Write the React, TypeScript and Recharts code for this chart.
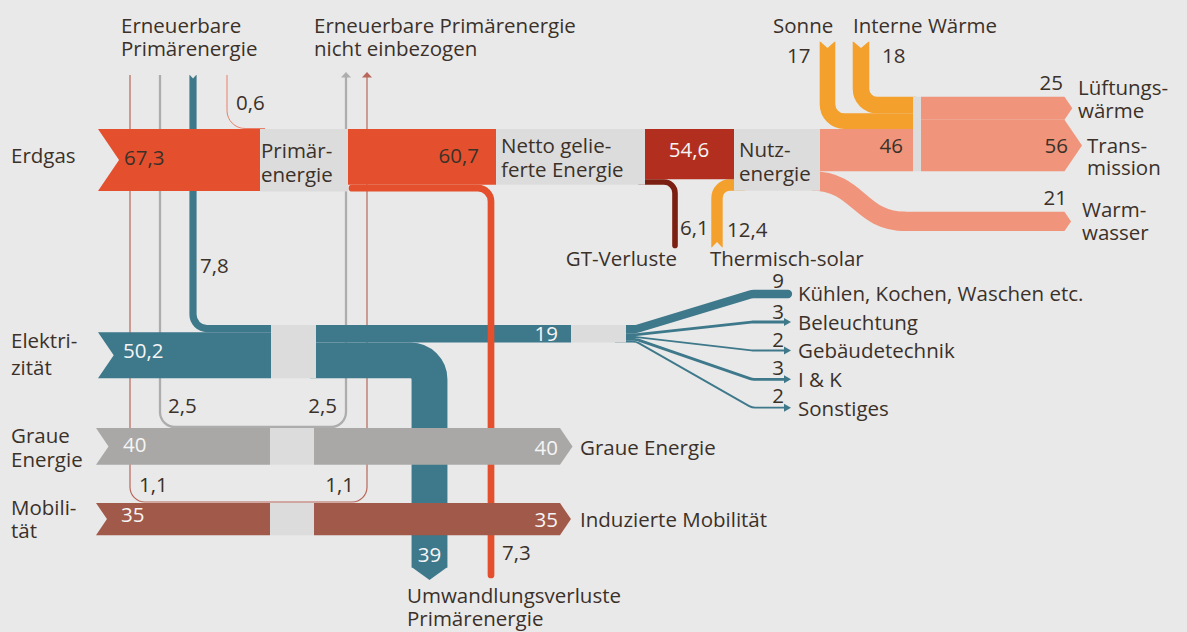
import { ComposedChart, XAxis, YAxis, Line, Scatter, ReferenceArea } from 'recharts'

const W = 1187
const H = 632
const K = 0.92 // pixels per energy unit (band thickness)
const FONT = "'Open Sans', 'Noto Sans', sans-serif"
const FS = 20.5

// ---- data ----
const sourceNames = ['Erdgas', 'Elektrizität', 'Graue Energie', 'Mobilität']
const sourceValues = [67.3, 50.2, 40, 35]
const renewableValues = [0.6, 7.8, 2.5, 1.1] // Erdgas, Elektrizität, Graue Energie, Mobilität
const gasChain = [60.7, 54.6] // netto geliefert, Nutzenergie
const gasLosses = [7.3, 6.1] // Umwandlungsverluste, GT-Verluste
const solarThermal = 12.4
const gainNames = ['Sonne', 'Interne Wärme']
const gainValues = [17, 18]
const heatValues = [25, 56, 21] // Lüftungswärme, Transmission, Warmwasser
const heatFromUseful = 46
const elecSplit = [19, 39] // Nutzung, Umwandlungsverluste
const elecUseNames = ['Kühlen, Kochen, Waschen etc.', 'Beleuchtung', 'Gebäudetechnik', 'I & K', 'Sonstiges']
const elecUseValues = [9, 3, 2, 3, 2]

const C = {
  bg: '#e9e9e9',
  box: '#dcdcdc',
  gas: '#e4502e',
  gasDark: '#b22f1f',
  gt: '#7a1f11',
  solar: '#f3a02c',
  salmon: '#f0957b',
  teal: '#3e788b',
  grey: '#a9a8a6',
  mob: '#a15a4a',
  thinRed: '#b8675a',
  thinGrey: '#adadad',
  thinSalmon: '#e8806a',
  text: '#3b3129',
  white: '#f5f5f5',
}

const fmt = (v: number) => String(v).replace('.', ',')

const [gasV, elecV, greyV, mobV] = sourceValues
const [renGas, renElec, renGrey, renMob] = renewableValues
const [nettoV, usefulGasV] = gasChain
const [lossPrimV, lossGtV] = gasLosses
const [sonneV, interneV] = gainValues
const [lueftV, transV, warmV] = heatValues
const [elecUseV, elecLossV] = elecSplit

// ---- layout (chart units == pixels) ----
const GAS_TOP = 129
const gasBot = GAS_TOP + gasV * K
const primBot = GAS_TOP + (gasV + renGas) * K
const nettoBot = GAS_TOP + nettoV * K
const usefulBot = GAS_TOP + usefulGasV * K
const nutzBot = GAS_TOP + (usefulGasV + solarThermal) * K
const heatBot = GAS_TOP + heatFromUseful * K
const nodeTop = GAS_TOP - (sonneV + interneV) * K
const lueftBot = nodeTop + lueftV * K
const transBot = lueftBot + transV * K
const WARM_TOP = 211.8
const warmBot = WARM_TOP + warmV * K
const lossY = nettoBot + (lossPrimV * K) / 2
const gtY = usefulBot + (lossGtV * K) / 2
const solarY = usefulBot + (solarThermal * K) / 2
const sonneY = GAS_TOP - (sonneV * K) / 2
const interneY = nodeTop + (interneV * K) / 2

const ELEC_TOP = 325
const elecBarTop = ELEC_TOP + renElec * K
const elecBot = elecBarTop + elecV * K
const useBot = ELEC_TOP + elecUseV * K
const lossElecY = useBot + (elecLossV * K) / 2
const fanStarts = elecUseValues.map((v, i) => ELEC_TOP + elecUseValues.slice(0, i).reduce((s, a) => s + a, 0) * K + (v * K) / 2)
const fanEnds = [294, 322, 350.5, 379.3, 407.7]

const GREY_TOP = 428
const greyBot = GREY_TOP + greyV * K
const MOB_TOP = 503
const mobBot = MOB_TOP + mobV * K

// custom d3 curve: polyline with rounded corners
function roundedCorners(radius: number) {
  return (context: any) => {
    let pts: number[][] = []
    return {
      areaStart() {},
      areaEnd() {},
      lineStart() {
        pts = []
      },
      point(x: number, y: number) {
        pts.push([x, y])
      },
      lineEnd() {
        const n = pts.length
        if (!n) return
        context.moveTo(pts[0][0], pts[0][1])
        for (let i = 1; i < n - 1; i++) {
          const [ax, ay] = pts[i - 1]
          const [bx, by] = pts[i]
          const [cx, cy] = pts[i + 1]
          const l1 = Math.hypot(bx - ax, by - ay) / (i - 1 === 0 ? 1 : 2)
          const l2 = Math.hypot(cx - bx, cy - by) / (i + 1 === n - 1 ? 1 : 2)
          context.arcTo(bx, by, cx, cy, Math.min(radius, l1, l2))
        }
        if (n > 1) context.lineTo(pts[n - 1][0], pts[n - 1][1])
      },
    }
  }
}

const bandShape = (kind: string, fill: string) => (p: any) => {
  const { x, y, width: w, height: h } = p
  const d = (0.68 * h) / 2
  let pts: number[][]
  switch (kind) {
    case 'notch':
      pts = [[x, y], [x + w, y], [x + w, y + h], [x, y + h], [x + d, y + h / 2]]
      break
    case 'arrow':
      pts = [[x, y], [x + w, y], [x + w + d, y + h / 2], [x + w, y + h], [x, y + h]]
      break
    case 'down':
      pts = [[x, y], [x + w, y], [x + w / 2, y + h]]
      break
    case 'up':
      pts = [[x, y + h], [x + w, y + h], [x + w / 2, y]]
      break
    default:
      pts = [[x, y], [x + w, y], [x + w, y + h], [x, y + h]]
  }
  return <polygon points={pts.map((q) => q.join(',')).join(' ')} fill={fill} />
}

const band = (key: string, x1: number, x2: number, y1: number, y2: number, fill: string, kind: string, z: number) => (
  <ReferenceArea
    key={key}
    x1={x1}
    x2={x2}
    y1={y1}
    y2={y2}
    fill={fill}
    fillOpacity={1}
    stroke="none"
    ifOverflow="visible"
    shape={bandShape(kind, fill)}
    zIndex={z}
  />
)

const flow = (key: string, pts: { x: number; y: number }[], color: string, width: number, curve: any, z: number, cap = 'butt') => (
  <Line
    key={key}
    data={pts}
    dataKey="y"
    type={curve}
    stroke={color}
    strokeWidth={width}
    strokeLinecap={cap as any}
    strokeLinejoin="round"
    dot={false}
    activeDot={false}
    legendType="none"
    isAnimationActive={false}
    zIndex={z}
  />
)

const upHead = (color: string) => (p: any) => (
  <polygon points={`${p.cx - 5},${p.cy + 5.5} ${p.cx + 5},${p.cy + 5.5} ${p.cx},${p.cy}`} fill={color} />
)
const rightHead = (color: string) => (p: any) => (
  <polygon points={`${p.cx - 7},${p.cy - 4} ${p.cx},${p.cy} ${p.cx - 7},${p.cy + 4}`} fill={color} />
)
const textShape = (color: string) => (p: any) => (
  <text x={p.cx} y={p.cy} fill={color} fontSize={FS} fontFamily={FONT} textAnchor={p.payload.a || 'start'}>
    {p.payload.t}
  </text>
)

const darkTexts = [
  { x: 121, y: 33, t: 'Erneuerbare' },
  { x: 121, y: 56, t: 'Primärenergie' },
  { x: 314, y: 33, t: 'Erneuerbare Primärenergie' },
  { x: 314, y: 56, t: 'nicht einbezogen' },
  { x: 773, y: 33, t: gainNames[0] },
  { x: 853, y: 33, t: gainNames[1] },
  { x: 787, y: 63, t: fmt(sonneV) },
  { x: 882, y: 63, t: fmt(interneV) },
  { x: 236, y: 110, t: fmt(renGas) },
  { x: 11, y: 163, t: sourceNames[0] },
  { x: 124, y: 165, t: fmt(gasV) },
  { x: 261, y: 158, t: 'Primär-' },
  { x: 261, y: 182, t: 'energie' },
  { x: 479, y: 163, t: fmt(nettoV), a: 'end' },
  { x: 501, y: 153, t: 'Netto gelie-' },
  { x: 501, y: 177, t: 'ferte Energie' },
  { x: 739, y: 157, t: 'Nutz-' },
  { x: 739, y: 181, t: 'energie' },
  { x: 903, y: 153, t: fmt(heatFromUseful), a: 'end' },
  { x: 1068, y: 153, t: fmt(transV), a: 'end' },
  { x: 1063, y: 90, t: fmt(lueftV), a: 'end' },
  { x: 1078, y: 95, t: 'Lüftungs-' },
  { x: 1078, y: 118, t: 'wärme' },
  { x: 1087, y: 153, t: 'Trans-' },
  { x: 1087, y: 175, t: 'mission' },
  { x: 1067, y: 205, t: fmt(warmV), a: 'end' },
  { x: 1082, y: 217, t: 'Warm-' },
  { x: 1082, y: 240, t: 'wasser' },
  { x: 680, y: 235, t: fmt(lossGtV) },
  { x: 727, y: 237, t: fmt(solarThermal) },
  { x: 677, y: 266, t: 'GT-Verluste', a: 'end' },
  { x: 710, y: 266, t: 'Thermisch-solar' },
  { x: 200, y: 273, t: fmt(renElec) },
  ...elecUseValues.map((v, i) => ({ x: 778, y: [288, 319, 347, 375, 403][i], t: fmt(v), a: 'middle' })),
  ...elecUseNames.map((n, i) => ({ x: 798, y: [301, 330, 358, 387, 416][i], t: n })),
  { x: 11, y: 348, t: 'Elektri-' },
  { x: 11, y: 375, t: 'zität' },
  { x: 168, y: 413, t: fmt(renGrey) },
  { x: 337, y: 413, t: fmt(renGrey), a: 'end' },
  { x: 11, y: 443, t: 'Graue' },
  { x: 11, y: 467, t: 'Energie' },
  { x: 580, y: 455, t: sourceNames[2] },
  { x: 139, y: 492, t: fmt(renMob) },
  { x: 354, y: 492, t: fmt(renMob), a: 'end' },
  { x: 11, y: 515, t: 'Mobili-' },
  { x: 11, y: 538, t: 'tät' },
  { x: 580, y: 527, t: 'Induzierte Mobilität' },
  { x: 502, y: 560, t: fmt(lossPrimV) },
  { x: 407, y: 603, t: 'Umwandlungsverluste' },
  { x: 407, y: 626, t: 'Primärenergie' },
]

const whiteTexts = [
  { x: 689, y: 157, t: fmt(usefulGasV), a: 'middle' },
  { x: 123, y: 358, t: fmt(elecV) },
  { x: 558, y: 341, t: fmt(elecUseV), a: 'end' },
  { x: 123, y: 452, t: fmt(greyV) },
  { x: 558, y: 455, t: fmt(greyV), a: 'end' },
  { x: 121, y: 522, t: fmt(mobV) },
  { x: 558, y: 527, t: fmt(mobV), a: 'end' },
  { x: 429.5, y: 562, t: fmt(elecLossV), a: 'middle' },
]

export default function App() {
  return (
    <div style={{ width: W, height: H, background: C.bg }}>
      <style>{'body{margin:0}'}</style>
      <ComposedChart width={W} height={H} margin={{ top: 0, right: 0, bottom: 0, left: 0 }}>
        <XAxis type="number" dataKey="x" domain={[0, W]} hide allowDataOverflow />
        <YAxis type="number" dataKey="y" domain={[0, H]} reversed hide allowDataOverflow />

        {/* renewable thin lines */}
        {flow('ren-mob', [{ x: 130, y: 75 }, { x: 130, y: 502 }, { x: 367, y: 502 }, { x: 367, y: 77 }], C.thinRed, Math.max(1.2, renMob * K), roundedCorners(15), 10)}
        {flow('ren-grey', [{ x: 160, y: 75 }, { x: 160, y: 427 }, { x: 346, y: 427 }, { x: 346, y: 77 }], C.thinGrey, renGrey * K, roundedCorners(15), 10)}
        {flow('ren-gas', [{ x: 227, y: 75 }, { x: 227, y: 128.5 }, { x: 265, y: 128.5 }], C.thinSalmon, 1, roundedCorners(18), 10)}
        <Scatter data={[{ x: 346, y: 72 }]} shape={upHead(C.thinGrey)} isAnimationActive={false} legendType="none" zIndex={11} />
        <Scatter data={[{ x: 367, y: 72 }]} shape={upHead(C.thinRed)} isAnimationActive={false} legendType="none" zIndex={11} />

        {/* renewable electricity 7,8 */}
        {flow('ren-elec', [{ x: 193, y: 75 }, { x: 193, y: ELEC_TOP + (renElec * K) / 2 }, { x: 280, y: ELEC_TOP + (renElec * K) / 2 }], C.teal, renElec * K, roundedCorners(14), 20)}
        {band('n-ren', 193 - (renElec * K) / 2, 193 + (renElec * K) / 2, 74.5, 78.5, C.bg, 'down', 21)}

        {/* flows around the gas chain */}
        {flow('gt', [{ x: 640, y: gtY }, { x: 675, y: gtY }, { x: 675, y: 245.5 }], C.gt, lossGtV * K, roundedCorners(11), 30, 'round')}
        {flow('solar', [{ x: 717, y: 247.5 }, { x: 717, y: solarY }, { x: 745, y: solarY }], C.solar, solarThermal * K, roundedCorners(13), 30)}
        {flow('sonne', [{ x: 827.5, y: 41.5 }, { x: 827.5, y: sonneY }, { x: 916, y: sonneY }], C.solar, sonneV * K, roundedCorners(17), 30)}
        {flow('interne', [{ x: 861, y: 41.5 }, { x: 861, y: interneY }, { x: 916, y: interneY }], C.solar, interneV * K, roundedCorners(16), 30)}
        {flow('warm', [{ x: 812, y: (heatBot + nutzBot) / 2 }, { x: 906, y: (WARM_TOP + warmBot) / 2 }], C.salmon, warmV * K, 'bumpX', 30)}
        {band('n-solar', 717 - (solarThermal * K) / 2, 717 + (solarThermal * K) / 2, 242, 248, C.bg, 'up', 31)}
        {band('n-sonne', 827.5 - (sonneV * K) / 2, 827.5 + (sonneV * K) / 2, 41, 48, C.bg, 'down', 31)}
        {band('n-interne', 861 - (interneV * K) / 2, 861 + (interneV * K) / 2, 41, 48, C.bg, 'down', 31)}

        {/* gas row */}
        {band('gas-l', 98, 260, GAS_TOP, gasBot, C.gas, 'notch', 40)}
        {band('gas-box', 260, 348, GAS_TOP, primBot, C.box, 'rect', 40)}
        {band('gas-r', 348, 496, GAS_TOP, nettoBot, C.gas, 'rect', 40)}
        {band('netto-box', 496, 645, GAS_TOP, nettoBot, C.box, 'rect', 40)}
        {band('useful', 645, 734, GAS_TOP, usefulBot, C.gasDark, 'rect', 40)}
        {band('nutz-box', 734, 820, GAS_TOP, nutzBot, C.box, 'rect', 40)}
        {band('heat', 820, 913, GAS_TOP, heatBot, C.salmon, 'rect', 40)}
        {band('node', 913, 921, nodeTop, heatBot, C.box, 'rect', 40)}
        {band('lueft', 921, 1064.5, nodeTop, lueftBot, C.salmon, 'arrow', 40)}
        {band('trans', 921, 1064.5, lueftBot, transBot, C.salmon, 'arrow', 40)}
        {band('warm-bar', 900, 1064.5, WARM_TOP, warmBot, C.salmon, 'arrow', 40)}

        {/* electricity row */}
        {flow('elec-loss', [{ x: 310, y: lossElecY }, { x: 429.5, y: lossElecY }, { x: 429.5, y: 567.5 }], C.teal, elecLossV * K, roundedCorners(19), 50)}
        {band('elec-loss-head', 429.5 - (elecLossV * K) / 2, 429.5 + (elecLossV * K) / 2, 567, 580, C.teal, 'down', 50)}
        {elecUseValues.map((v, i) =>
          flow(
            'fan' + i,
            [{ x: 615, y: fanStarts[i] }, { x: 636, y: fanStarts[i] }, { x: 752, y: fanEnds[i] }, { x: i === 0 ? 788 : 786, y: fanEnds[i] }],
            C.teal,
            v * K,
            roundedCorners(12),
            50,
            i === 0 ? 'round' : 'butt'
          )
        )}
        <Scatter data={fanEnds.slice(1).map((y) => ({ x: 791, y }))} shape={rightHead(C.teal)} isAnimationActive={false} legendType="none" zIndex={50} />
        {band('elec-l', 98, 271, elecBarTop, elecBot, C.teal, 'notch', 51)}
        {band('elec-box', 271, 316, ELEC_TOP, elecBot, C.box, 'rect', 51)}
        {band('elec-use', 316, 571, ELEC_TOP, useBot, C.teal, 'rect', 51)}
        {band('elec-use-box', 571, 626, ELEC_TOP, useBot, C.box, 'rect', 51)}

        {/* primary energy conversion loss 7,3 */}
        {flow('gas-loss', [{ x: 352, y: lossY }, { x: 491, y: lossY }, { x: 491, y: 575 }], C.gas, lossPrimV * K, roundedCorners(13), 60, 'round')}

        {/* grey energy & mobility rows */}
        {band('grey-l', 96, 270, GREY_TOP, greyBot, C.grey, 'notch', 70)}
        {band('grey-box', 270, 314, GREY_TOP, greyBot, C.box, 'rect', 70)}
        {band('grey-r', 314, 560, GREY_TOP, greyBot, C.grey, 'arrow', 70)}
        {band('mob-l', 96, 270, MOB_TOP, mobBot, C.mob, 'notch', 70)}
        {band('mob-box', 270, 314, MOB_TOP, mobBot, C.box, 'rect', 70)}
        {band('mob-r', 314, 560, MOB_TOP, mobBot, C.mob, 'arrow', 70)}

        {/* labels */}
        <Scatter data={darkTexts} shape={textShape(C.text)} isAnimationActive={false} legendType="none" zIndex={80} />
        <Scatter data={whiteTexts} shape={textShape(C.white)} isAnimationActive={false} legendType="none" zIndex={80} />
      </ComposedChart>
    </div>
  )
}
